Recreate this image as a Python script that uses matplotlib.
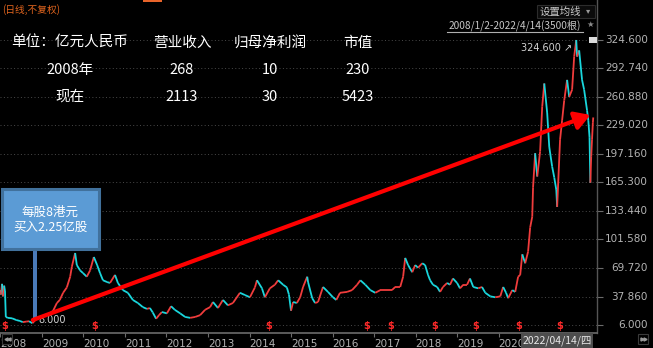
import numpy as np
import matplotlib.pyplot as plt
from matplotlib.collections import LineCollection
from matplotlib.patches import Rectangle
import matplotlib.transforms as mtransforms

plt.rcParams['font.family'] = ['Noto Sans CJK SC', 'DejaVu Sans']

# 比亚迪股份 (1211.HK) 日线收盘，不复权，按时间抽样
t_year = [
    2008.00, 2008.01, 2008.04, 2008.06, 2008.09, 2008.11, 2008.13, 2008.18, 2008.28, 2008.38,
    2008.47, 2008.54, 2008.62, 2008.69, 2008.77, 2008.83, 2008.91,
    2009.00, 2009.10, 2009.19, 2009.27, 2009.36, 2009.43, 2009.51, 2009.60, 2009.68, 2009.72,
    2009.80, 2009.84, 2009.92, 2009.99,
    2010.08, 2010.16, 2010.25, 2010.33, 2010.40, 2010.47, 2010.57, 2010.64, 2010.76, 2010.83, 2010.95,
    2011.07, 2011.19, 2011.31, 2011.43, 2011.53, 2011.60, 2011.67, 2011.75, 2011.82, 2011.89,
    2012.01, 2012.11, 2012.20, 2012.33, 2012.45, 2012.57, 2012.69, 2012.81, 2012.93,
    2013.05, 2013.12, 2013.24, 2013.36, 2013.48, 2013.60, 2013.77, 2013.89,
    2014.01, 2014.13, 2014.18, 2014.30, 2014.37, 2014.49, 2014.61, 2014.69, 2014.81, 2014.90, 2014.95,
    2015.00, 2015.05, 2015.14, 2015.22, 2015.29, 2015.39, 2015.41, 2015.51, 2015.58, 2015.65, 2015.77, 2015.89,
    2016.01, 2016.09, 2016.18, 2016.35, 2016.47, 2016.59, 2016.67, 2016.79, 2016.91,
    2017.03, 2017.15, 2017.31, 2017.43, 2017.51, 2017.63, 2017.70, 2017.75, 2017.82, 2017.92, 2017.99,
    2018.06, 2018.16, 2018.23, 2018.30, 2018.35, 2018.42, 2018.52, 2018.59, 2018.66, 2018.76, 2018.83, 2018.90,
    2019.00, 2019.07, 2019.15, 2019.24, 2019.31, 2019.39, 2019.51, 2019.60, 2019.68, 2019.80, 2019.92,
    2020.04, 2020.11, 2020.18, 2020.23, 2020.33, 2020.40, 2020.47, 2020.52, 2020.57, 2020.64, 2020.71,
    2020.76, 2020.81, 2020.83, 2020.88, 2020.93,
    2021.00, 2021.05, 2021.10, 2021.17, 2021.22, 2021.29, 2021.34, 2021.39, 2021.41, 2021.48, 2021.53,
    2021.58, 2021.65, 2021.70, 2021.77, 2021.82, 2021.87, 2021.89, 2021.94,
    2022.01, 2022.06, 2022.13, 2022.16, 2022.19, 2022.21, 2022.23, 2022.25, 2022.27, 2022.28,
]
close = [
    45.0, 40.0, 52.0, 38.0, 50.0, 44.0, 15.0, 14.0, 13.5, 11.6,
    10.5, 9.2, 9.8, 10.2, 8.0, 11.0, 14.0,
    16.0, 17.0, 19.0, 22.0, 30.6, 34.0, 42.0, 48.0, 60.0, 71.0,
    86.5, 73.0, 67.0, 64.0,
    60.0, 67.0, 82.0, 73.0, 64.0, 56.0, 54.0, 53.0, 62.0, 53.0, 45.0,
    42.0, 34.0, 30.6, 26.0, 24.0, 25.0, 20.0, 13.0, 17.0, 20.5,
    19.0, 27.0, 23.0, 19.0, 15.0, 14.0, 15.0, 17.0, 23.0,
    26.0, 31.7, 25.0, 34.0, 28.0, 30.6, 42.0, 39.5,
    37.0, 48.0, 56.0, 47.0, 37.0, 47.0, 51.0, 56.0, 51.0, 48.0, 40.0,
    22.0, 31.7, 30.6, 37.0, 48.5, 60.0, 54.0, 36.0, 30.6, 31.7, 48.5, 43.0,
    37.0, 34.0, 42.0, 43.0, 45.0, 51.0, 56.0, 51.0, 45.0,
    42.0, 45.0, 45.0, 45.0, 48.5, 48.5, 60.0, 81.0, 73.0, 65.0, 73.0,
    70.0, 75.0, 73.0, 62.0, 56.0, 51.0, 48.5, 43.0, 48.5, 53.0, 51.0, 58.0,
    53.0, 47.0, 51.0, 51.0, 58.0, 48.5, 47.0, 48.5, 42.0, 38.0, 37.0,
    38.0, 48.5, 42.0, 36.0, 45.0, 43.0, 60.0, 62.0, 85.0, 75.0, 88.0,
    115.0, 127.0, 160.0, 198.0, 172.0,
    200.0, 250.0, 276.0, 243.0, 205.0, 183.0, 171.0, 157.0, 138.0, 213.0, 235.0,
    257.0, 280.0, 261.0, 269.0, 306.0, 324.6, 306.0, 313.0,
    280.0, 269.0, 246.0, 235.0, 216.0, 165.0, 194.0, 213.0, 232.0, 238.0,
]

price_ticks = [6.000, 37.860, 69.720, 101.580, 133.440, 165.300,
               197.160, 229.020, 260.880, 292.740, 324.600]
# 2021 and later sit under the crosshair date tag
year_ticks = list(range(2008, 2021))
dividend_dates = [2008.11, 2010.28, 2014.45, 2016.83, 2017.41,
                  2018.47, 2019.44, 2020.49, 2021.46]

buy_date = 2008.78
arrow_end = (2022.21, 240.8)

header = ['单位：亿元人民币', '营业收入', '归母净利润', '市值']
row_2008 = ['2008年', '268', '10', '230']
row_now = ['现在', '2113', '30', '5423']

UP = '#f03c3c'
DOWN = '#19d6dc'
GRID = '#4a4a4a'
AXIS = '#6b6b6b'
LABEL = '#b4b4b4'

W, H = 653, 348
fig = plt.figure(figsize=(W / 100, H / 100), dpi=100, facecolor='black')


def fx(px):
    return px / W


def fy(py):
    return 1 - py / H


ax = fig.add_axes([0, fy(333), fx(597), 333 / H])
ax.set_facecolor('black')
ax.set_xlim(2007.99, 2022.37)
ax.set_ylim(-2.94, 369.3)

for v in price_ticks:
    ax.axhline(v, color=GRID, lw=0.7, ls=(0, (1, 2.5)), zorder=0)

# candles reduced to close-to-close strokes, red up / cyan down
t = np.array(t_year)
c = np.array(close)
segs = np.stack([np.column_stack([t[:-1], c[:-1]]),
                 np.column_stack([t[1:], c[1:]])], axis=1)
cols = [UP if c[i + 1] >= c[i] else DOWN for i in range(len(c) - 1)]
ax.add_collection(LineCollection(segs, colors=cols, linewidths=1.3, zorder=2))

# dividend markers
tr_div = mtransforms.blended_transform_factory(ax.transData, ax.transAxes)
for d in dividend_dates:
    ax.text(d, 0.022, '$', transform=tr_div, color='#ff2a2a', fontsize=7,
            fontweight='bold', ha='center', va='center', family='DejaVu Sans', zorder=3)

# extreme value labels
i_max = int(np.argmax(c))
i_min = int(np.argmin(c))
ax.annotate(f'{c[i_max]:.3f} \u2197', xy=(t[i_max], c[i_max]), xytext=(-3, -6),
            textcoords='offset points', ha='right', va='center',
            color='#d2d2d2', fontsize=7, family='DejaVu Sans', zorder=4)
ax.annotate(f'{c[i_min]:.3f}', xy=(t[i_min], c[i_min]), xytext=(4, 2),
            textcoords='offset points', ha='left', va='center',
            color='#d2d2d2', fontsize=7, family='DejaVu Sans', zorder=4)

# buy-in callout: pole, box and text
ax.add_patch(Rectangle((fx(33), fy(318)), fx(4), (318 - 250) / H, transform=fig.transFigure,
                       fc='#4a7ab8', ec='none', zorder=5))
ax.add_patch(Rectangle((fx(2), fy(249)), fx(97), 60 / H, transform=fig.transFigure,
                       fc='#5b9bd5', ec='#41719c', lw=2.2, zorder=6))
ax.text(fx(50), fy(212), '每股8港元', transform=fig.transFigure, color='white',
        fontsize=9, ha='center', va='center', zorder=7)
ax.text(fx(50), fy(227), '买入2.25亿股', transform=fig.transFigure, color='white',
        fontsize=9, ha='center', va='center', zorder=7)

# arrow from the buy point to the latest price
ax.annotate('', xy=arrow_end, xytext=(buy_date, 11.6),
            arrowprops=dict(arrowstyle='-|>,head_length=0.75,head_width=0.45',
                            color='#ff0000', lw=3, mutation_scale=12,
                            shrinkA=0, shrinkB=0),
            zorder=8)

# axes frame
for side in ['top', 'left']:
    ax.spines[side].set_visible(False)
ax.spines['bottom'].set_color(AXIS)
ax.spines['right'].set_color('#555555')
ax.spines['bottom'].set_linewidth(1.2)
ax.spines['right'].set_linewidth(1.0)

ax.yaxis.tick_right()
ax.set_yticks(price_ticks)
ax.tick_params(axis='y', length=4, color=AXIS, labelright=False)
tr_y = mtransforms.blended_transform_factory(ax.transAxes, ax.transData)
for v in price_ticks:
    ax.text(fx(648) / fx(597), v, f'{v:.3f}', transform=tr_y, color=LABEL,
            fontsize=7.5, ha='right', va='center', family='DejaVu Sans', clip_on=False)

ax.set_xticks(year_ticks)
ax.set_xticklabels([str(y) for y in year_ticks], family='DejaVu Sans')
ax.tick_params(axis='x', length=3, color=AXIS, labelcolor=LABEL, labelsize=7.5, pad=1.5)
for lab in ax.get_xticklabels():
    lab.set_horizontalalignment('left')

# financial summary table
col_x = [70, 182, 270, 358]
for row, py in [(header, 43), (row_2008, 70), (row_now, 97)]:
    for txt, px in zip(row, col_x):
        fig.text(fx(px), fy(py), txt, color='white', fontsize=10.5,
                 ha='center', va='center')

# chart chrome
fig.text(fx(2), fy(10), '(日线,不复权)', color='#e0641e', fontsize=7, ha='left', va='center')
fig.patches.append(Rectangle((fx(143), fy(2)), fx(19), 2 / H, transform=fig.transFigure,
                             fc='#e8642a', ec='none'))
fig.patches.append(Rectangle((fx(537), fy(18)), fx(58), 13 / H, transform=fig.transFigure,
                             fc='#0b0b0b', ec='#2c2c2c', lw=0.8))
fig.text(fx(560), fy(12), '设置均线', color='#c8c8c8', fontsize=7.5, ha='center', va='center')
fig.text(fx(588), fy(11), '\u25be', color='#9a9a9a', fontsize=6, ha='center', va='center',
         family='DejaVu Sans')
fig.text(fx(515), fy(25), '2008/1/2-2022/4/14(3500根)', color='#c8c8c8', fontsize=7.3,
         ha='center', va='center')
fig.lines.append(plt.Line2D([fx(447), fx(583)], [fy(32), fy(32)], transform=fig.transFigure,
                            color='#b0b0b0', lw=0.8))
fig.text(fx(590), fy(24), '\u2605', color='#8c8c8c', fontsize=6, ha='center', va='center',
         family='DejaVu Sans')
fig.patches.append(Rectangle((fx(589), fy(43)), fx(8), 6 / H, transform=fig.transFigure,
                             fc='#dcdcdc', ec='none'))

# crosshair date tag and scroll buttons
fig.patches.append(Rectangle((fx(521), 0), fx(72), 15 / H, transform=fig.transFigure,
                             fc='#4d4d4d', ec='none'))
fig.text(fx(557), fy(341), '2022/04/14/四', color='#e8e8e8', fontsize=7.5,
         ha='center', va='center')
for bx, mk in [(2, '<'), (638, '>')]:
    fig.patches.append(Rectangle((fx(bx), fy(344)), fx(10), 10 / H, transform=fig.transFigure,
                                 fc='black', ec='#3a3a3a', lw=0.8))
    for dx in (3.5, 6.5):
        fig.lines.append(plt.Line2D([fx(bx + dx)], [fy(339)], transform=fig.transFigure,
                                    marker=mk, ms=2.2, color='#9a9a9a', ls='none'))

fig.savefig('out.png', dpi=100, facecolor='black')
